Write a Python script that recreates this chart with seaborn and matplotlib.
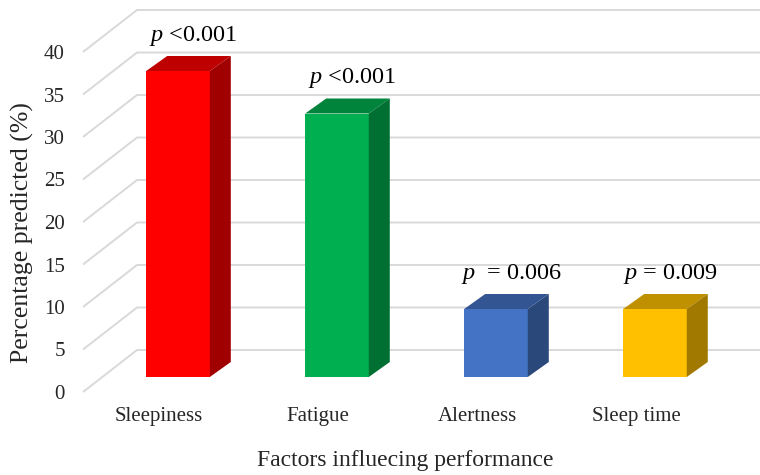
import matplotlib
matplotlib.use("Agg")
import matplotlib.pyplot as plt
from matplotlib.patches import Polygon
from matplotlib.transforms import offset_copy
import seaborn as sns
import pandas as pd
import numpy as np

# ---- data ----
categories = ["Sleepiness", "Fatigue", "Alertness", "Sleep time"]
values = [36, 31, 8, 8]
p_labels = [" <0.001", " <0.001", "  = 0.006", " = 0.009"]
y_ticks = [0, 5, 10, 15, 20, 25, 30, 35, 40]

# ---- styles ----
front_colors = ["#FF0000", "#00B050", "#4472C4", "#FFC000"]

def shade(hexcol, f):
    h = hexcol.lstrip("#")
    r, g, b = (int(h[i:i + 2], 16) for i in (0, 2, 4))
    return (r * f / 255, g * f / 255, b * f / 255)

sns.set_theme(style="white")
plt.rcParams["font.family"] = ["Liberation Serif", "DejaVu Serif"]
plt.rcParams["mathtext.fontset"] = "custom"
plt.rcParams["mathtext.it"] = "Liberation Serif:italic"
plt.rcParams["mathtext.rm"] = "Liberation Serif"

W, H = 760, 475
fig = plt.figure(figsize=(W / 100, H / 100), dpi=100)
# axes = front plane of the 3D box (pixels from top: y 392 -> 0, y 52 -> 40)
left_px, right_px, bot_px, top_px = 83, 760, 392, 52
ax = fig.add_axes([left_px / W, (H - bot_px) / H, (right_px - left_px) / W, (bot_px - top_px) / H])

df = pd.DataFrame({"factor": categories, "pct": values})
sns.barplot(data=df, x="factor", y="pct", hue="factor", palette=front_colors,
            width=0.40, legend=False, ax=ax, saturation=1, edgecolor="none", zorder=3)

ax.set_xlim(-0.478, 3.78)
ax.set_ylim(0, 40)
for s in ax.spines.values():
    s.set_visible(False)
ax.grid(False)

# pixel scale
px_x = (right_px - left_px) / (3.78 + 0.478)
px_y = (bot_px - top_px) / 40.0

# back wall gridlines (depth offset 54px right, 42px up)
wall_dx, wall_dy = 54 / px_x, 42 / px_y
x0 = -0.478
for v in y_ticks:
    ax.plot([x0, x0 + wall_dx, 3.78], [v, v + wall_dy, v + wall_dy],
            color="#D9D9D9", lw=1.4, clip_on=False, zorder=1, solid_capstyle="butt")

# bars: front face sits 19px right / 15px up from front plane; depth 21px x 15px
T = offset_copy(ax.transData, fig=fig, x=19, y=15, units="dots")
bdx, bdy = 21 / px_x, 15 / px_y
for patch, col in zip(ax.patches, front_colors):
    patch.set_transform(T)
    patch.set_clip_on(False)
    x, w, h = patch.get_x(), patch.get_width(), patch.get_height()
    top = Polygon([[x, h], [x + w, h], [x + w + bdx, h + bdy], [x + bdx, h + bdy]],
                  closed=True, facecolor=shade(col, 0.75), edgecolor="none",
                  transform=T, zorder=3, clip_on=False)
    side = Polygon([[x + w, 0], [x + w + bdx, bdy], [x + w + bdx, h + bdy], [x + w, h]],
                   closed=True, facecolor=shade(col, 0.63), edgecolor="none",
                   transform=T, zorder=3, clip_on=False)
    ax.add_patch(top)
    ax.add_patch(side)

# p-value labels above bars
for i, (v, lab) in enumerate(zip(values, p_labels)):
    ax.text(i + 0.12 + bdx / 2 + 0.03, v + 15 / px_y + bdy + 20 / px_y,
            r"$\mathit{p}$" + lab, ha="center", va="center", fontsize=17.5,
            color="black", clip_on=False, zorder=5)

ax.set_yticks(y_ticks)
ax.set_yticklabels([str(t) for t in y_ticks], fontsize=15)
ax.tick_params(axis="y", length=0, pad=13)
ax.tick_params(axis="x", length=0, pad=11, labelsize=15)
ax.set_xlabel("Factors influecing performance", fontsize=17)
ax.set_ylabel("Percentage predicted (%)", fontsize=18.5)
ax.xaxis.set_label_coords((405 - left_px) / (right_px - left_px), -(450 - bot_px) / (bot_px - top_px))
ax.yaxis.set_label_coords(-(left_px - 34) / (right_px - left_px), 0.468)

fig.savefig("out.png", dpi=100)
